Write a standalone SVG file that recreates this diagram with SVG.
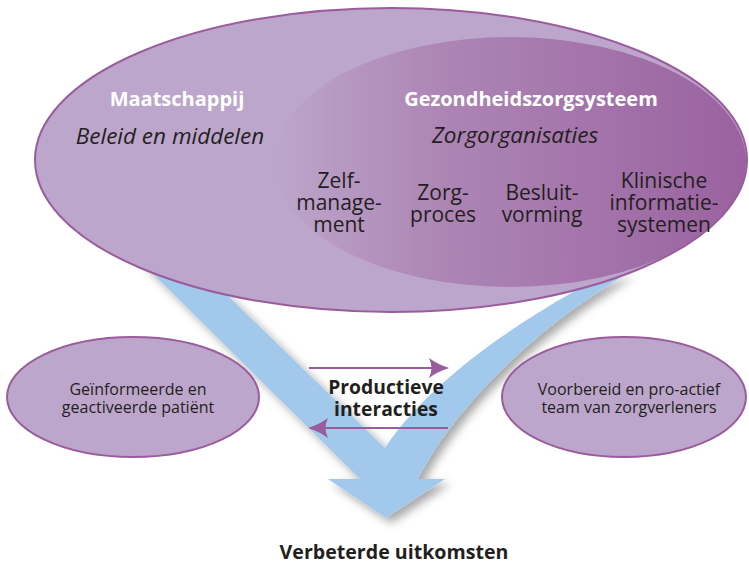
<svg xmlns="http://www.w3.org/2000/svg" width="749" height="565" viewBox="0 0 749 565">
<style>
text{font-family:"Open Sans","Liberation Sans",sans-serif;fill:#231f20}
.w{fill:#ffffff;font-weight:bold;font-size:20px}
.it{font-style:italic;font-size:22.5px}
.col{font-size:21px}
.sm{font-size:16px}
.b{font-weight:bold;font-size:19.3px}
.ell{fill:#bda6cb;stroke:#9a5c9d;stroke-width:2}
.ia{stroke:#9a5c9d;stroke-width:2.2;fill:none}
</style>
<defs>
<linearGradient id="g" x1="0" y1="0" x2="1" y2="0">
<stop offset="0" stop-color="#bda6cb"/>
<stop offset="0.35" stop-color="#ad86b5"/>
<stop offset="1" stop-color="#9a62a0"/>
</linearGradient>
<filter id="sh" x="-20%" y="-20%" width="140%" height="140%">
<feDropShadow dx="5" dy="5" stdDeviation="5" flood-color="#000" flood-opacity="0.35"/>
</filter>
<marker id="ah" viewBox="0 0 20 20" refX="18" refY="10" markerWidth="20" markerHeight="20" markerUnits="userSpaceOnUse" orient="auto">
<path d="M0,0 Q8,6 20,10 Q8,14 0,20 Q5,10 0,0 Z" fill="#9a5c9d"/>
</marker>
</defs>
<g id="flow-arrow">
<path d="M140,261 L360,479 L328,479 L386,518 L445,479 L418,479 C450,415 530,330 630,272 L595,280 C520,320 430,380 385,448 L193,262 Z" fill="#a2c9eb" filter="url(#sh)"/>
</g>
<g id="maatschappij">
<ellipse cx="391" cy="160" rx="356" ry="152" fill="#bda6cb"/>
</g>
<g id="gezondheidszorgsysteem">
<ellipse cx="510" cy="162" rx="236" ry="125" fill="url(#g)"/>
</g>
<ellipse cx="391" cy="160" rx="356" ry="152" fill="none" stroke="#9a5c9d" stroke-width="2"/>
<g id="labels-top">
<text class="w" x="177" y="106" text-anchor="middle">Maatschappij</text>
<text class="it" x="170" y="144" text-anchor="middle">Beleid en middelen</text>
<text class="w" x="531" y="106" text-anchor="middle">Gezondheidszorgsysteem</text>
<text class="it" x="515" y="143" text-anchor="middle">Zorgorganisaties</text>
</g>
<g id="zelfmanagement">
<text class="col" text-anchor="middle"><tspan x="339" y="188">Zelf-</tspan><tspan x="339" y="210">manage-</tspan><tspan x="339" y="232">ment</tspan></text>
</g>
<g id="zorgproces">
<text class="col" text-anchor="middle"><tspan x="443" y="200">Zorg-</tspan><tspan x="443" y="222">proces</tspan></text>
</g>
<g id="besluitvorming">
<text class="col" text-anchor="middle"><tspan x="542" y="200">Besluit-</tspan><tspan x="542" y="222">vorming</tspan></text>
</g>
<g id="klinische">
<text class="col" text-anchor="middle"><tspan x="664" y="188">Klinische</tspan><tspan x="664" y="210">informatie-</tspan><tspan x="664" y="232">systemen</tspan></text>
</g>
<g id="patient">
<ellipse class="ell" cx="133" cy="397" rx="126" ry="60"/>
<text class="sm" text-anchor="middle"><tspan x="138" y="395">Geïnformeerde en</tspan><tspan x="138" y="413">geactiveerde patiënt</tspan></text>
</g>
<g id="team">
<ellipse class="ell" cx="624" cy="397" rx="122" ry="60"/>
<text class="sm" text-anchor="middle"><tspan x="629" y="395">Voorbereid en pro-actief</tspan><tspan x="629" y="413">team van zorgverleners</tspan></text>
</g>
<g id="connectors">
<line class="ia" x1="309" y1="368" x2="447" y2="368" marker-end="url(#ah)"/>
<line class="ia" x1="448" y1="428" x2="310" y2="428" marker-end="url(#ah)"/>
</g>
<g id="interacties">
<text class="b" text-anchor="middle"><tspan x="386" y="394">Productieve</tspan><tspan x="386" y="416">interacties</tspan></text>
</g>
<g id="uitkomsten">
<text class="b" x="394" y="559" text-anchor="middle" style="font-size:19.6px">Verbeterde uitkomsten</text>
</g>
</svg>
